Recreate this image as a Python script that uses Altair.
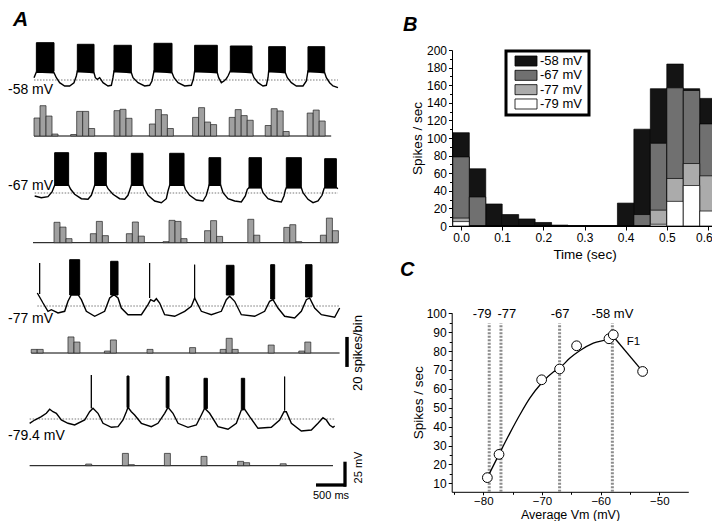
import altair as alt
import pandas as pd

FONT = "Liberation Sans"
W, H = 704, 513

# ---------------- Panel A: membrane potential traces (t in s, V in mV) ----------------
TR1_T = [0.017, 0.056, 0.35, 0.389, 0.444, 0.528, 0.611, 0.683, 0.722, 0.739,
         1.017, 1.039, 1.072, 1.111, 1.167, 1.25, 1.306, 1.333, 1.35,
         1.639, 1.667, 1.75, 1.861, 1.944, 1.983, 2.017,
         2.317, 2.35, 2.417, 2.528, 2.639, 2.672, 2.694,
         3.072, 3.094, 3.139, 3.183, 3.222, 3.25, 3.289,
         3.65, 3.683, 3.75, 3.833, 3.889, 3.917, 3.928,
         4.206, 4.239, 4.306, 4.389, 4.5, 4.556, 4.583,
         4.861, 4.889, 4.944, 5.0, 5.083]
TR1_V = [-55.7, -50, -50.7, -55.7, -60.7, -64, -64, -60.7, -54, -49,
         -50.7, -55.7, -57.3, -55.7, -60.7, -64, -63.3, -55.7, -49,
         -50.7, -55.7, -60.7, -64, -63.3, -59, -49,
         -50.7, -55.7, -60.7, -64, -63.3, -57.3, -49,
         -50.7, -55.7, -60.7, -59, -56.7, -54, -49,
         -50.7, -55.7, -60.7, -64, -63.3, -55.7, -49,
         -50.7, -55.7, -60.7, -64, -64, -59, -49,
         -50.7, -55.7, -60.7, -64, -65.7]
TR1_B0 = [0.056, 0.739, 1.35, 2.017, 2.694, 3.289, 3.928, 4.583]
TR1_B1 = [0.35, 1.017, 1.639, 2.317, 3.072, 3.65, 4.206, 4.861]
TR1_TOP = [-20.7, -22.3, -23.3, -21.3, -23.3, -24, -24.7, -24.7]
TR1_BASE = [-49.5, -50, -50, -50, -50, -50, -50, -50]

TR2_T = [0.028, 0.139, 0.25, 0.317, 0.361,
         0.594, 0.628, 0.694, 0.806, 0.917, 0.972, 1.006, 1.028,
         1.222, 1.25, 1.333, 1.444, 1.528, 1.583, 1.617, 1.639,
         1.833, 1.861, 1.917, 2.028, 2.139, 2.222, 2.25, 2.278,
         2.517, 2.539, 2.611, 2.722, 2.833, 2.889, 2.917, 2.933,
         3.128, 3.167, 3.25, 3.361, 3.472, 3.539, 3.572, 3.6,
         3.806, 3.833, 3.917, 4.028, 4.139, 4.183, 4.206, 4.222,
         4.472, 4.5, 4.583, 4.667, 4.75, 4.817, 4.85, 4.861,
         5.056, 5.083]
TR2_V = [-70, -71.7, -70.7, -66, -59.3,
         -59.3, -63.3, -68.3, -72.7, -73.3, -69.3, -63.3, -59.3,
         -59.3, -62.7, -68.3, -72.7, -73.3, -69.3, -63.3, -59.3,
         -59.3, -63.3, -69.3, -75, -76.7, -72.7, -65, -59.3,
         -59.3, -63.3, -69.3, -74, -75, -69.3, -63.3, -59.3,
         -59.3, -66.7, -72.7, -75, -76, -70, -63.3, -61.7,
         -61.7, -66.7, -72.7, -75, -76, -70, -64, -61.7,
         -61.7, -66.7, -73.3, -76.7, -75, -69.3, -62.7, -61.7,
         -61.7, -62.7]
TR2_B0 = [0.361, 1.028, 1.639, 2.278, 2.933, 3.6, 4.222, 4.861]
TR2_B1 = [0.594, 1.222, 1.833, 2.517, 3.128, 3.806, 4.472, 5.056]
TR2_TOP = [-26.7, -26.7, -27.3, -27.3, -31.7, -31.7, -31.7, -32.7]
TR2_BASE = [-59.3, -59.3, -59.3, -59.3, -59.3, -61.7, -61.7, -61.7]

TR3_T = [0.072, 0.167, 0.25, 0.306, 0.417, 0.528, 0.583, 0.639, 0.75, 0.806,
         0.889, 1.028, 1.194, 1.278, 1.35, 1.417, 1.472, 1.583, 1.806, 1.917,
         1.961, 2.017, 2.056, 2.111, 2.194, 2.361, 2.528, 2.639, 2.694, 2.75,
         2.806, 2.972, 3.139, 3.222, 3.278, 3.361, 3.472, 3.694, 3.861, 3.944,
         4.0, 4.083, 4.194, 4.361, 4.472, 4.556, 4.611, 4.694, 4.806, 5.028,
         5.111]
TR3_V = [-64, -74, -82.3, -80.7, -84, -82.3, -72.3, -65.7, -65.7, -70.7,
         -82.3, -87.3, -82.3, -69, -65.7, -69, -79, -85.7, -85.7, -75.7,
         -70.7, -72.3, -69.7, -74, -85.7, -87.3, -82.3, -77.3, -69, -75.7,
         -82.3, -85.7, -82.3, -70.7, -67.3, -72.3, -85.7, -87.3, -82.3, -72.3,
         -70.7, -79, -87.3, -89, -82.3, -70.7, -69, -79, -85.7, -88.3,
         -79]
TR3_B0 = [0.111, 0.611, 1.294, 1.944, 2.694, 3.222, 3.961, 4.544]
TR3_B1 = [0.111, 0.778, 1.417, 1.944, 2.694, 3.35, 4.028, 4.65]
TR3_TOP = [-34, -30.7, -32.3, -34, -35.7, -36.3, -35.7, -35.7]
TR3_BASE = [-65, -66, -66, -69, -69, -66, -70, -68]

TR4_T = [-0.056, 0.028, 0.139, 0.222, 0.278, 0.333, 0.389, 0.472, 0.583, 0.694,
         0.861, 0.944, 1.0, 1.083, 1.167, 1.306, 1.417, 1.5, 1.556, 1.583,
         1.639, 1.694, 1.806, 1.972, 2.083, 2.194, 2.25, 2.333, 2.417, 2.583,
         2.722, 2.806, 2.861, 2.944, 3.083, 3.25, 3.389, 3.472, 3.528, 3.611,
         3.75, 3.972, 4.111, 4.183, 4.222, 4.306, 4.472, 4.639, 4.75, 4.833,
         4.889, 4.944, 5.0, 5.028]
TR4_V = [-83.7, -80.4, -77.1, -73.7, -69.7, -72.1, -73.7, -80.4, -83.7, -85.4,
         -80.4, -72.1, -68.7, -73.7, -83.7, -87.7, -87.1, -80.4, -72.1, -67.7,
         -72.1, -75.4, -83.7, -87.1, -83.7, -73.7, -67.7, -73.7, -83.7, -87.7,
         -85.4, -75.4, -68.7, -73.7, -87.1, -89.7, -83.7, -70.4, -69.7, -77.1,
         -88.7, -87.7, -80.4, -72.1, -72.1, -83.7, -91.4, -90.4, -83.7, -78.1,
         -80.4, -85.4, -87.7, -86.4]
TR4_B0 = [0.972, 1.567, 2.22, 2.85, 3.472, 4.194]
TR4_B1 = [0.972, 1.6, 2.267, 2.906, 3.528, 4.194]
TR4_TOP = [-35.4, -36.4, -37, -38.7, -38.7, -37]
TR4_BASE = [-68.7, -68, -68, -69, -69.7, -71]

TRACE_LEVELS = [-58, -67, -77, -79.4]
TRACE_LABELS = ["-58 mV", "-67 mV", "-77 mV", "-79.4 mV"]

# spike histograms under each trace (0.1 s bins; counts in spikes/bin)
BIN_A = 0.1
H1_START = [0.017, 0.628, 1.35, 1.94, 2.66, 3.27, 3.87, 4.57]
H1_COUNTS = [[12, 20.2, 13.3, 1.3], [1, 16.4, 16.4, 5], [16.9, 17.8, 11.8],
             [8, 17.6, 14.2, 5], [12.4, 18.9, 9.3, 7.6], [12.4, 17.6, 13.6, 10.5],
             [7, 18.2, 16.7, 3], [15.3, 17.3, 10]]
H2_START = [0.35, 0.956, 1.556, 2.167, 2.86, 3.58, 4.18, 4.79]
H2_COUNTS = [[13.6, 10.4, 2.7], [6, 14.2, 4.7], [6, 13.8, 4.4], [0.7, 14.9, 14.2, 2.7],
             [8, 14.7, 4.2], [15.6, 5], [10.2, 12, 0.7], [5, 16.4, 8]]
H3_START = [-0.03, 0.583, 1.19, 1.9, 2.61, 3.12, 3.92, 4.43]
H3_COUNTS = [[2.4, 2.4], [10.7, 7.3], [1.3, 8.7], [2.4], [3.6], [2.4, 9.8, 2.4], [5.3], [1.3, 7.3]]
H4_START = [0.878, 1.49, 2.19, 2.8, 3.41, 4.12]
H4_COUNTS = [[1.1], [8.2, 0.7], [8.2], [6.2], [2.9, 2], [1.3]]
H_LINE_T0 = [0.017, 0.0, -0.028, -0.056]
H_LINE_T1 = [4.97, 5.08, 5.11, 5.0]

# scale bars
SB_TIME = 0.5      # s
SB_VOLT = 25       # mV
SB_COUNT = 20      # spikes/bin

# ---------------- Panel B: PSTH (bin centres in s, spikes/sec) ----------------
B_TIME = [0.00, 0.04, 0.08, 0.12, 0.16, 0.20, 0.24, 0.28,
          0.32, 0.36, 0.40, 0.44, 0.48, 0.52, 0.56, 0.60]
B_BIN = 0.04
B_SERIES = ["-58 mV", "-67 mV", "-77 mV", "-79 mV"]
B_COLORS = ["#141414", "#707070", "#ababab", "#ffffff"]
B_58 = [106, 65, 25, 13, 8, 4, 1, 0, 0, 0, 26, 110, 156, 184, 156, 145]
B_67 = [78.5, 33, 0, 0, 0, 0, 0, 0, 0, 0, 0, 13, 94, 157, 154, 116]
B_77 = [9, 0, 0, 0, 0, 0, 0, 0, 0, 0, 0, 0, 18, 54, 71, 57]
B_79 = [5, 0, 0, 0, 0, 0, 0, 0, 0, 0, 0, 0, 2, 28, 46, 17]

# ---------------- Panel C: F1 vs average Vm ----------------
C_VM = [-79.32, -77.33, -70.06, -67.0, -64.1, -58.58, -57.84, -52.84]
C_RATE = [13.0, 25.3, 64.8, 70.5, 82.8, 86.5, 88.6, 69.2]
FIT_VM = [-79.32, -77.33, -75.45, -73.75, -72.05, -70.06, -68.07, -67.0,
          -65.23, -63.52, -61.25, -58.58, -57.84]
FIT_RATE = [13.0, 25.3, 36.7, 46.4, 55.2, 63.1, 68.9, 71.0,
            76.3, 80.3, 84.2, 86.5, 87.7]
TAIL_VM = [-57.84, -52.84]
TAIL_RATE = [87.7, 69.2]
VM_MARKS = [-79, -77, -67, -58]
VM_MARK_LABELS = ["-79", "-77", "-67", "-58 mV"]
VM_LABEL_X = [-80.2, -76.0, -66.9, -58.0]
VM_LABEL_Y = 99.6
VM_LINE_TOP = 94.7

# ======================================================================
XA = alt.Scale(domain=[0, 5], range=[25, 325])


def note(text, x, y, size=13, **kw):
    return alt.Chart(pd.DataFrame({"s": [text]})).mark_text(
        font=FONT, fontSize=size, color="black", **kw
    ).encode(x=alt.value(x), y=alt.value(y), text="s:N")


def trace_chart(t, v, b0, b1, btop, bbase, level, page_y):
    ys = alt.Scale(domain=[level - 60, level + 60], range=[page_y - 8 + 60, page_y - 8 - 60])
    ref = alt.Chart(pd.DataFrame({"t0": [t[0]], "t1": [t[-1]], "v": [level]})).mark_rule(
        color="#555555", strokeWidth=0.8, strokeDash=[1.5, 1.5]
    ).encode(x=alt.X("t0:Q", scale=XA, axis=None), x2="t1:Q",
             y=alt.Y("v:Q", scale=ys, axis=None))
    line = alt.Chart(pd.DataFrame({"t": t, "v": v})).mark_line(
        color="black", strokeWidth=1.4
    ).encode(x=alt.X("t:Q", scale=XA, axis=None), y=alt.Y("v:Q", scale=ys, axis=None))
    burst = alt.Chart(pd.DataFrame({"t0": b0, "t1": b1, "top": btop, "base": bbase})).mark_rect(
        fill="black", stroke="black", strokeWidth=1
    ).encode(x=alt.X("t0:Q", scale=XA, axis=None), x2="t1:Q",
             y=alt.Y("base:Q", scale=ys, axis=None), y2="top:Q")
    return alt.layer(ref, line, burst), ys


def hist_chart(starts, counts, page_base, lt0, lt1):
    ys = alt.Scale(domain=[0, 20], range=[page_base - 8, page_base - 8 - 30])
    rows = []
    for s, cs in zip(starts, counts):
        for i, c in enumerate(cs):
            rows.append({"t0": s + i * BIN_A, "t1": s + (i + 1) * BIN_A, "n": c, "z": 0})
    df = pd.DataFrame(rows)
    base = alt.Chart(pd.DataFrame({"t0": [lt0], "t1": [lt1], "n": [0]})).mark_rule(
        color="black", strokeWidth=1
    ).encode(x=alt.X("t0:Q", scale=XA, axis=None), x2="t1:Q",
             y=alt.Y("n:Q", scale=ys, axis=None))
    bars = alt.Chart(df).mark_rect(fill="#a0a0a0", stroke="#222222", strokeWidth=0.7).encode(
        x=alt.X("t0:Q", scale=XA, axis=None), x2="t1:Q",
        y=alt.Y("n:Q", scale=ys, axis=None), y2="z:Q")
    return alt.layer(base, bars), ys


t1c, _ = trace_chart(TR1_T, TR1_V, TR1_B0, TR1_B1, TR1_TOP, TR1_BASE, TRACE_LEVELS[0], 80)
t2c, _ = trace_chart(TR2_T, TR2_V, TR2_B0, TR2_B1, TR2_TOP, TR2_BASE, TRACE_LEVELS[1], 193)
t3c, _ = trace_chart(TR3_T, TR3_V, TR3_B0, TR3_B1, TR3_TOP, TR3_BASE, TRACE_LEVELS[2], 306)
t4c, ys4 = trace_chart(TR4_T, TR4_V, TR4_B0, TR4_B1, TR4_TOP, TR4_BASE, TRACE_LEVELS[3], 419)

h1c, _ = hist_chart(H1_START, H1_COUNTS, 136, H_LINE_T0[0], H_LINE_T1[0])
h2c, _ = hist_chart(H2_START, H2_COUNTS, 242.7, H_LINE_T0[1], H_LINE_T1[1])
h3c, ys_h3 = hist_chart(H3_START, H3_COUNTS, 353, H_LINE_T0[2], H_LINE_T1[2])
h4c, _ = hist_chart(H4_START, H4_COUNTS, 465.7, H_LINE_T0[3], H_LINE_T1[3])

# scale bars (drawn through the panel-A scales)
sb_t0 = 4.717
sb_time = alt.Chart(pd.DataFrame({"a": [sb_t0], "b": [sb_t0 + SB_TIME]})).mark_rule(
    color="black", strokeWidth=3.3).encode(
    x=alt.X("a:Q", scale=XA, axis=None), x2="b:Q", y=alt.value(477))
sb_v0 = -147.1
sb_volt = alt.Chart(pd.DataFrame({"a": [sb_v0], "b": [sb_v0 + SB_VOLT]})).mark_rule(
    color="black", strokeWidth=3.3).encode(
    y=alt.Y("a:Q", scale=ys4, axis=None), y2="b:Q", x=alt.value(337))
sb_n0 = -9.3
sb_count = alt.Chart(pd.DataFrame({"a": [sb_n0], "b": [sb_n0 + SB_COUNT]})).mark_rule(
    color="black", strokeWidth=3.5).encode(
    y=alt.Y("a:Q", scale=ys_h3, axis=None), y2="b:Q", x=alt.value(339))


# ---------------- axes helpers ----------------
def mk_axis(orient, offset, title, values, fmt=None, title_pad=3, **extra):
    kw = dict(orient=orient, offset=offset, title=title, values=values, grid=False,
              domainColor="black", domainWidth=1, tickColor="black", tickWidth=1, tickSize=4,
              labelColor="black", labelFont=FONT, labelFontSize=12, labelPadding=2,
              labelFlush=False, labelOverlap=False,
              titleColor="black", titleFont=FONT, titleFontSize=13.5, titleFontWeight="normal",
              titlePadding=title_pad)
    if fmt:
        kw["format"] = fmt
    kw.update(extra)
    return alt.Axis(**kw)


def minor_axis(orient, offset, values):
    return alt.Axis(orient=orient, offset=offset, values=values, labels=False, domain=False,
                    grid=False, tickSize=2.5, tickColor="black", tickWidth=1, title=None)


# ---------------- Panel B ----------------
XB = alt.Scale(domain=[-0.022, 0.622], range=[444, 709])
YB = alt.Scale(domain=[0, 200], range=[218, 42])
AXB_X = mk_axis("bottom", 218 - H, "Time (sec)", [0, 0.1, 0.2, 0.3, 0.4, 0.5, 0.6], ".1f", 4,
                labelOffset={"condition": {"test": "datum.value > 0.55", "value": -4}, "value": 0})
AXB_Y = mk_axis("left", -444, "Spikes / sec", list(range(0, 201, 20)), None, 2, tickSize=3.5)

b_layers = []
for name, col, vals in zip(B_SERIES, B_COLORS, [B_58, B_67, B_77, B_79]):
    df = pd.DataFrame({"tc": B_TIME, "val": vals})
    df["t0"] = df["tc"] - B_BIN / 2
    df["t1"] = df["tc"] + B_BIN / 2
    df["z"] = 0
    b_layers.append(
        alt.Chart(df).mark_rect(fill=col, stroke="black", strokeWidth=0.7).encode(
            x=alt.X("t0:Q", scale=XB, axis=AXB_X), x2="t1:Q",
            y=alt.Y("val:Q", scale=YB, axis=AXB_Y), y2="z:Q"))
panel_b = alt.layer(*b_layers)

b_minor = alt.Chart(pd.DataFrame({"x": [0.3], "y": [100]})).mark_point(opacity=0).encode(
    x=alt.X("x:Q", scale=XB, axis=None),
    y=alt.Y("y:Q", scale=YB, axis=minor_axis("left", -444, list(range(10, 200, 20)))))

leg_df = pd.DataFrame({"label": B_SERIES, "color": B_COLORS})
LEG_Y = alt.Scale(domain=B_SERIES, range=[48, 101], paddingInner=0.3, paddingOuter=0)
legend_box = alt.Chart(pd.DataFrame({"s": ["box"]})).mark_rect(
    fill="white", stroke="black", strokeWidth=3).encode(
    x=alt.value(498), x2=alt.value(581), y=alt.value(43), y2=alt.value(107))
legend_sw = alt.Chart(leg_df).mark_rect(stroke="black", strokeWidth=0.8).encode(
    y=alt.Y("label:N", scale=LEG_Y, axis=None), x=alt.value(507), x2=alt.value(529),
    fill=alt.Fill("color:N", scale=None))
legend_tx = alt.Chart(leg_df).mark_text(
    font=FONT, fontSize=13, align="left", baseline="middle", color="black").encode(
    y=alt.Y("label:N", scale=LEG_Y, axis=None), x=alt.value(532), text="label:N")
legend_b = alt.layer(legend_sw, legend_tx)

# ---------------- Panel C ----------------
XC = alt.Scale(domain=[-85.4, -45.05], range=[443.7, 680.3])
YC = alt.Scale(domain=[5.5, 100.3], range=[483.8, 304.7])
AXC_X = mk_axis("bottom", 483.8 - H, "Average Vm (mV)", [-80, -70, -60, -50], None, 1,
                tickSize=3, labelPadding=1, labelFontSize=11.5,
                titleBaseline="alphabetic", titleY=26.5, titleFontSize=12.5)
AXC_Y = mk_axis("left", -443.7, "Spikes / sec", list(range(10, 101, 10)), None, 1, tickSize=3.5)

vm_df = pd.DataFrame({"vm": VM_MARKS, "y0": [5.5] * len(VM_MARKS), "y1": [VM_LINE_TOP] * len(VM_MARKS)})
c_vlines = alt.Chart(vm_df).mark_rule(color="#8c8c8c", strokeWidth=3, strokeDash=[2, 1.5]).encode(
    x=alt.X("vm:Q", scale=XC, axis=AXC_X), y=alt.Y("y0:Q", scale=YC, axis=AXC_Y), y2="y1:Q")
c_vlabels = alt.Chart(pd.DataFrame({"x": VM_LABEL_X, "y": [VM_LABEL_Y] * 4, "s": VM_MARK_LABELS})).mark_text(
    font=FONT, fontSize=13, color="black", baseline="middle").encode(
    x=alt.X("x:Q", scale=XC, axis=AXC_X), y=alt.Y("y:Q", scale=YC, axis=AXC_Y), text="s:N")
c_fit = alt.Chart(pd.DataFrame({"vm": FIT_VM, "r": FIT_RATE})).mark_line(
    color="black", strokeWidth=1.3, interpolate="monotone").encode(
    x=alt.X("vm:Q", scale=XC, axis=AXC_X), y=alt.Y("r:Q", scale=YC, axis=AXC_Y))
c_tail = alt.Chart(pd.DataFrame({"vm": TAIL_VM, "r": TAIL_RATE})).mark_line(
    color="black", strokeWidth=1.3).encode(
    x=alt.X("vm:Q", scale=XC, axis=AXC_X), y=alt.Y("r:Q", scale=YC, axis=AXC_Y))
c_pts = alt.Chart(pd.DataFrame({"vm": C_VM, "r": C_RATE})).mark_point(
    shape="circle", filled=True, fill="white", stroke="black", strokeWidth=1, size=95, opacity=1).encode(
    x=alt.X("vm:Q", scale=XC, axis=AXC_X), y=alt.Y("r:Q", scale=YC, axis=AXC_Y))
c_f1 = alt.Chart(pd.DataFrame({"x": [-54.4], "y": [84.7], "s": ["F1"]})).mark_text(
    font=FONT, fontSize=11.5, color="black", baseline="middle").encode(
    x=alt.X("x:Q", scale=XC, axis=AXC_X), y=alt.Y("y:Q", scale=YC, axis=AXC_Y), text="s:N")
panel_c = alt.layer(c_vlines, c_vlabels, c_fit, c_tail, c_pts, c_f1)

c_minor = alt.Chart(pd.DataFrame({"x": [-70], "y": [50]})).mark_point(opacity=0).encode(
    x=alt.X("x:Q", scale=XC, axis=minor_axis("bottom", 483.8 - H, [-85, -75, -65, -55])),
    y=alt.Y("y:Q", scale=YC, axis=minor_axis("left", -443.7, list(range(15, 100, 10)))))

# ---------------- annotations ----------------
notes = [
    note("A", 5, 12, size=21, fontWeight="bold", fontStyle="italic", align="left"),
    note("B", 395, 17, size=20, fontWeight="bold", fontStyle="italic", align="left"),
    note("C", 392, 262, size=20, fontWeight="bold", fontStyle="italic", align="left"),
    note(TRACE_LABELS[0], 0, 82, size=14, align="left", baseline="middle"),
    note(TRACE_LABELS[1], 0, 178, size=14, align="left", baseline="middle"),
    note(TRACE_LABELS[2], 0, 311, size=14, align="left", baseline="middle"),
    note(TRACE_LABELS[3], 0, 428, size=14, align="left", baseline="middle"),
    note("20 spikes/bin", 349.5, 345, size=13, angle=270, align="center", baseline="middle"),
    note("25 mV", 351, 459.5, size=11, angle=270, align="center", baseline="middle"),
    note("500 ms", 323, 487.5, size=11, align="center", baseline="middle"),
]

chart = alt.layer(
    t1c, h1c, t2c, h2c, t3c, h3c, t4c, h4c, sb_time, sb_volt, sb_count,
    panel_b, b_minor, legend_box, legend_b, panel_c, c_minor, *notes
).resolve_scale(
    x="independent", y="independent"
).properties(
    width=W, height=H, padding=0, autosize=alt.AutoSizeParams(type="none")
).configure_view(strokeWidth=0)

chart.save("out.html", embed_options={"renderer": "svg", "actions": False})
